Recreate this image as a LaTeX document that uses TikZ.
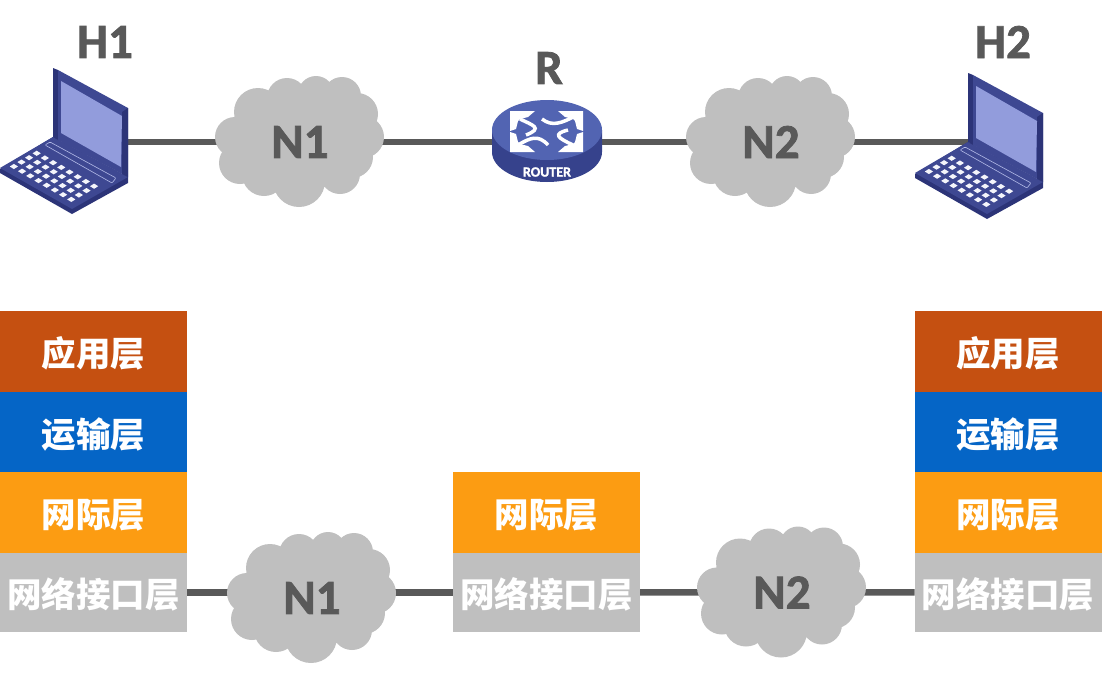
\documentclass[tikz,border=0pt]{standalone}
\usepackage{fontspec}
\usepackage{xcolor}
\setmainfont{Carlito}[BoldFeatures={FakeBold=1.6}]
\newfontfamily\cjkfont{Noto Sans CJK SC}
\usetikzlibrary{positioning, backgrounds}
\definecolor{appbrown}{RGB}{197, 80, 17}
\definecolor{transblue}{RGB}{5, 101, 198}
\definecolor{iporange}{RGB}{252, 156, 18}
\definecolor{ifgray}{RGB}{191, 191, 191}
\definecolor{textdark}{RGB}{89, 89, 89}
\definecolor{lidblue}{RGB}{62, 72, 146}
\definecolor{lidedge}{RGB}{44, 52, 120}
\definecolor{screenblue}{RGB}{146, 156, 220}
\definecolor{routertop}{RGB}{82, 100, 178}
\definecolor{routerside}{RGB}{54, 66, 140}
\tikzset{
    layerbox/.style={
        minimum width=187, minimum height=80.5,
        inner sep=0pt, outer sep=0pt,
        text height=32pt, text depth=2pt,
        text=white, font=\cjkfont\bfseries\fontsize{34.5}{38}\selectfont
    },
    hostlabel/.style={text=textdark, inner sep=0pt, font=\bfseries\fontsize{49}{50}\selectfont},
    wire/.style={draw=textdark, line width=6.5pt},
    netcloud/.pic={
        \fill[ifgray] (0,-3) circle[radius=50] (-30,-5) circle[radius=35] (30,-5) circle[radius=35]
            (-42,-30) circle[radius=24] (-13,-44) circle[radius=20] (16,-48) circle[radius=18]
            (42,-46) circle[radius=19] (57,-28) circle[radius=21] (63,-5) circle[radius=21]
            (52,15) circle[radius=21] (40,32) circle[radius=20] (-1,39) circle[radius=26]
            (-36,32) circle[radius=22] (-60,21) circle[radius=21] (-65,-5) circle[radius=20];
        \node[hostlabel] (-label) at (0,0) {\tikzpictext};
    },
    laptop/.pic={
        \fill[lidedge] (0,169) -- (53,137) -- (128,177) -- (128,183) -- (72,214) -- (0,173) -- cycle;
        \fill[lidblue] (0,168) -- (53,137) -- (128,177) -- (72,209) -- cycle;
        \fill[lidedge] (53,68) -- (58,70) -- (58,140) -- (53,137) -- cycle;
        \fill[lidblue] (58,70) -- (128,108) -- (128,177) -- (58,140) -- cycle;
        \fill[lidedge] (122,112) -- (128,108) -- (128,177) -- (122,174) -- cycle;
        \fill[screenblue] (61,81) -- (122,116) -- (121,167) -- (61,133) -- cycle;
        \draw[screenblue!70!white, line width=0.6pt, rounded corners=1pt] (45,145) -- (50,142) -- (116,178) -- (112,183) -- cycle;
        \foreach \row in {0,1,2,3}
            \foreach \col in {0,...,7}
                \fill[white!90!screenblue, shift={(36.7+8.2*\col-7.6*\row,153.3+4.7*\col+4.4*\row)}]
                    (-4.1,0) -- (0,-2.6) -- (4.1,0) -- (0,2.6) -- cycle;
        \coordinate (-west) at (53,137);
        \coordinate (-east) at (128,142);
    },
    routericon/.pic={
        \fill[routerside] (492,130) -- (492,152) arc[start angle=180, end angle=0, x radius=55, y radius=30] -- (602,130) -- cycle;
        \fill[routertop] (547,130) ellipse[x radius=55, y radius=30];
        \foreach \hx/\hy/\sx/\sy in {510/111/1/1, 583/111/-1/1, 583/152/-1/-1, 510/152/1/-1}{
            \fill[white] (\hx,\hy) -- ++(\sx*25,0) -- ++(\sx*-7,\sy*6) -- ++(\sx*-8,\sy*2) -- ++(\sx*-2,\sy*2)
                -- ++(\sx*-2,\sy*8) -- ++(\sx*-6,\sy*2) -- cycle;
        }
        \draw[white, line width=3.5pt] (520,119) .. controls (532,125) and (544,128) .. (526,135);
        \draw[white, line width=3.5pt] (575,116) .. controls (562,123) and (552,127) .. (542,119);
        \draw[white, line width=3.5pt] (573,145) .. controls (558,138) and (552,134) .. (568,130);
        \draw[white, line width=3.5pt] (518,145) .. controls (530,138) and (538,134) .. (548,145);
        \coordinate (-hub) at (547,142);
        \node[text=white, inner sep=0pt, font=\bfseries\fontsize{14}{15}\selectfont] (-label) at (547,172) {ROUTER};
    }
}

\begin{document}
\begin{tikzpicture}[x=1pt, y=-1pt]
    \useasboundingbox (0,0) rectangle (1107,696);

    % top row
    \pic (hostA) at (0,0) {laptop};
    \pic (hostB) at (915,5) {laptop};
    \pic (router) at (0,0) {routericon};
    \pic[pic text=N1] (cloudA) at (300,142) {netcloud};
    \pic[pic text=N2] (cloudB) at (771,142) {netcloud};
    \node[hostlabel] (labelA) at (105,42) {H1};
    \node[hostlabel] (labelR) at (549,68) {R};
    \node[hostlabel] (labelB) at (1003,42) {H2};

    % protocol stacks
    \node[layerbox, fill=appbrown] (appA) at (93.5,351.5) {应用层};
    \node[layerbox, fill=transblue, below=0pt of appA] (transA) {运输层};
    \node[layerbox, fill=iporange, below=0pt of transA] (ipA) {网际层};
    \node[layerbox, fill=ifgray, below=0pt of ipA, minimum height=79] (ifA) {网络接口层};

    \node[layerbox, fill=iporange] (ipR) at (546.5,512.5) {网际层};
    \node[layerbox, fill=ifgray, below=0pt of ipR, minimum height=79] (ifR) {网络接口层};

    \node[layerbox, fill=appbrown] (appB) at (1008,351.5) {应用层};
    \node[layerbox, fill=transblue, below=0pt of appB] (transB) {运输层};
    \node[layerbox, fill=iporange, below=0pt of transB] (ipB) {网际层};
    \node[layerbox, fill=ifgray, below=0pt of ipB, minimum height=79] (ifB) {网络接口层};

    \pic[pic text=N1] (cloudC) at (312,598) {netcloud};
    \pic[pic text=N2] (cloudD) at (782,592.5) {netcloud};

    \begin{scope}[on background layer]
        \draw[wire] (hostA-east) -- (cloudA-label);
        \draw[wire] (cloudA-label) -- (router-hub);
        \draw[wire] (router-hub) -- (cloudB-label);
        \draw[wire] (cloudB-label) -- (hostB-west);
        \draw[wire] (ifA.east) -- (ifA.east -| cloudC-label);
        \draw[wire] (ifR.west) -- (ifR.west -| cloudC-label);
        \draw[wire] (ifR.east) -- (cloudD-label);
        \draw[wire] (ifB.west) -- (cloudD-label);
    \end{scope}
\end{tikzpicture}
\end{document}
